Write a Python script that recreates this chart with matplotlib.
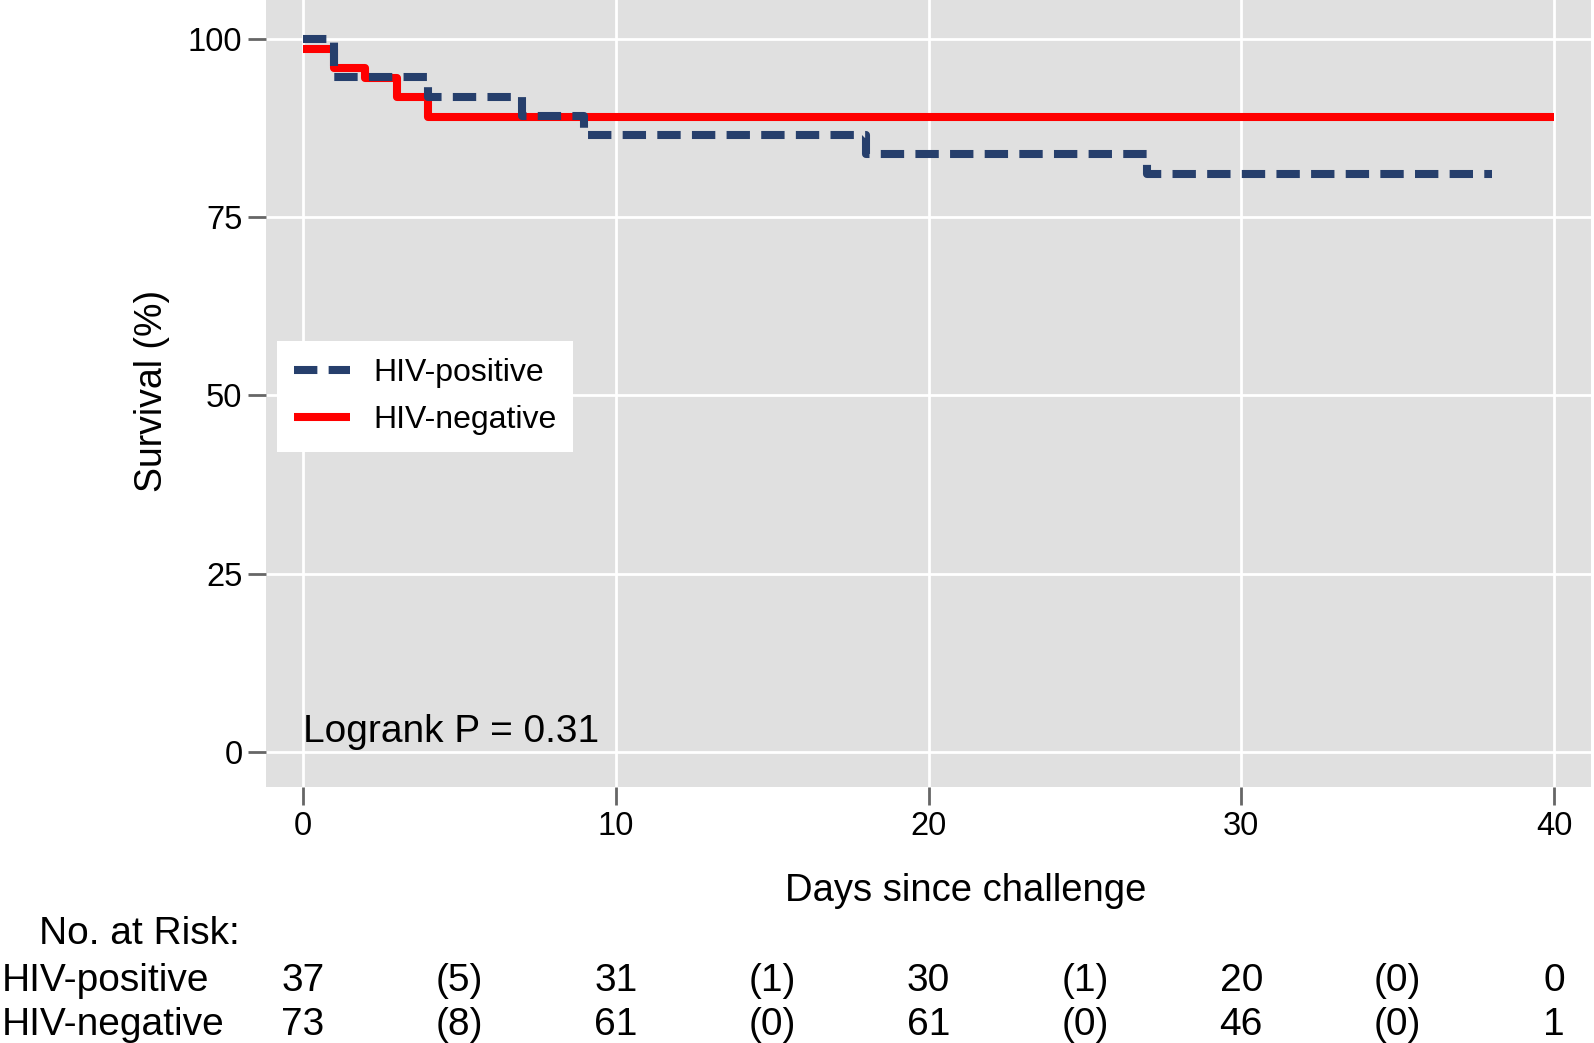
import matplotlib
matplotlib.use("Agg")
import matplotlib.pyplot as plt
import matplotlib.transforms as mtransforms

plt.rcParams["font.family"] = ["Liberation Sans", "DejaVu Sans"]

# Kaplan-Meier steps (days, survival %)
pos_days = [0, 1, 4, 7, 9, 18, 27, 38]
pos_surv = [100, 94.6, 91.9, 89.2, 86.5, 83.8, 81.1, 81.1]
neg_days = [0, 1, 2, 3, 4, 40]
neg_surv = [98.6, 95.9, 94.5, 91.8, 89.0, 89.0]

x_ticks = [0, 10, 20, 30, 40]
y_ticks = [0, 25, 50, 75, 100]

# number at risk table (events in brackets)
risk_days = [0, 5, 10, 15, 20, 25, 30, 35, 40]
pos_risk = ["37", "(5)", "31", "(1)", "30", "(1)", "20", "(0)", "0"]
neg_risk = ["73", "(8)", "61", "(0)", "61", "(0)", "46", "(0)", "1"]

BLUE = "#263f6c"
RED = "#ff0000"
W, H = 1594, 1043

fig = plt.figure(figsize=(W / 100, H / 100), dpi=100)
ax = fig.add_axes([266 / W, 1 - 787 / H, 1325 / W, 787 / H])
ax.set_facecolor("#e0e0e0")
for s in ax.spines.values():
    s.set_visible(False)

ax.set_xlim(-1.18, 41.18)
ax.set_ylim(-4.95, 105.47)
ax.set_xticks(x_ticks)
ax.set_yticks(y_ticks)
ax.grid(True, color="white", linewidth=2.0)
ax.set_axisbelow(True)
ax.tick_params(axis="both", length=13, width=2, color="#666666",
               labelsize=23.5, pad=4)

ax.step(neg_days, neg_surv, where="post", color=RED, linewidth=5.8,
        solid_joinstyle="round", solid_capstyle="butt", label="HIV-negative", zorder=3)
ax.step(pos_days, pos_surv, where="post", color=BLUE, linewidth=5.8,
        linestyle=(0, (2.9, 1.4)), dash_capstyle="butt", label="HIV-positive", zorder=4)

handles, labels = ax.get_legend_handles_labels()
leg = ax.legend(handles[::-1], labels[::-1], loc="lower left",
                bbox_to_anchor=(0.0083, 0.4257), borderaxespad=0,
                fontsize=23, frameon=True, fancybox=False, framealpha=1,
                edgecolor="white", handlelength=1.75, handletextpad=0.75,
                labelspacing=0.55, borderpad=0.52)
leg.get_frame().set_linewidth(0)

ax.text(0, 1.4, "Logrank P = 0.31", fontsize=28, va="baseline", ha="left")

fig.text(966 / W, 1 - 891 / H, "Days since challenge", fontsize=27.5,
         ha="center", va="center")
fig.text(152 / W, 1 - 391 / H, "Survival (%)", fontsize=27,
         ha="center", va="center", rotation=90)

fig.text(39 / W, 1 - 934 / H, "No. at Risk:", fontsize=28, ha="left", va="center")
fig.text(2 / W, 1 - 981 / H, "HIV-positive", fontsize=28, ha="left", va="center")
fig.text(2 / W, 1 - 1025 / H, "HIV-negative", fontsize=28, ha="left", va="center")

tr = mtransforms.blended_transform_factory(ax.transData, fig.transFigure)
for d, a, b in zip(risk_days, pos_risk, neg_risk):
    ax.text(d, 1 - 981 / H, a, transform=tr, fontsize=28, ha="center",
            va="center", clip_on=False)
    ax.text(d, 1 - 1025 / H, b, transform=tr, fontsize=28, ha="center",
            va="center", clip_on=False)

fig.savefig("out.png", dpi=100)
